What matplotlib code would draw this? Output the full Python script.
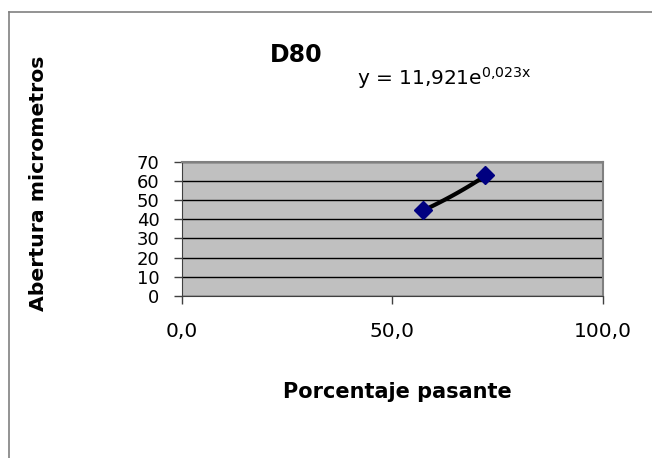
import numpy as np
import matplotlib.pyplot as plt
from matplotlib.lines import Line2D

plt.rcParams['font.family'] = ['DejaVu Sans']
plt.rcParams['mathtext.fontset'] = 'dejavusans'

# datos
pasante = [57.3, 72.1]        # porcentaje pasante
abertura = [45, 63]           # abertura en micrometros
coef_a, coef_b = 11.921, 0.023  # ajuste exponencial y = a*e^(b*x)
xticks = [0, 50, 100]
xticklabels = ['0,0', '50,0', '100,0']
yticks = [0, 10, 20, 30, 40, 50, 60, 70]

W, H = 652, 458
fig = plt.figure(figsize=(W / 100, H / 100), dpi=100)
ax = fig.add_axes([181.7 / W, 1 - 296 / H, (602.7 - 181.7) / W, (296 - 161.7) / H])

ax.set_facecolor('#c0c0c0')
ax.set_xlim(0, 100)
ax.set_ylim(0, 70)
ax.set_xticks(xticks)
ax.set_xticklabels(xticklabels, fontsize=14.5)
ax.set_yticks(yticks)
ax.set_yticklabels([str(v) for v in yticks], fontsize=13)
ax.yaxis.grid(True, color='black', lw=1)
ax.set_axisbelow(True)
ax.tick_params(axis='both', direction='out', length=6, width=1, color='#404040')
ax.tick_params(axis='y', pad=10)
ax.tick_params(axis='x', pad=13)
for s in ['left', 'bottom']:
    ax.spines[s].set_color('#404040')
for s in ['top', 'right']:
    ax.spines[s].set_color('#808080')
    ax.spines[s].set_linewidth(1.5)

# linea de tendencia exponencial
xt = np.linspace(pasante[0], pasante[1], 50)
ax.plot(xt, coef_a * np.exp(coef_b * xt), color='black', lw=3, zorder=3, clip_on=False)
ax.plot(pasante, abertura, linestyle='none', marker='D', ms=9.5, mfc='#000080',
        mec='#000080', zorder=4, clip_on=False)

fig.text(296 / W, 1 - 62 / H, 'D80', fontsize=17, fontweight='bold', ha='center', va='baseline')
fig.text(357 / W, 1 - 85 / H, r'y = 11,921e$^{\mathregular{0{,}023x}}$', fontsize=14.5,
         ha='left', va='baseline')
fig.text(397 / W, 1 - 398 / H, 'Porcentaje pasante', fontsize=15, fontweight='bold',
         ha='center', va='baseline')
fig.text(39 / W, 1 - 183 / H, 'Abertura micrometros', fontsize=14.7, fontweight='bold',
         ha='center', va='center', rotation=90)

# borde del grafico
fig.add_artist(Line2D([8.5 / W, 8.5 / W], [0, 1 - 11.5 / H], color='#808080', lw=1.2))
fig.add_artist(Line2D([8.5 / W, 1], [1 - 11.5 / H, 1 - 11.5 / H], color='#808080', lw=1.2))

fig.savefig('out.png', dpi=100)
